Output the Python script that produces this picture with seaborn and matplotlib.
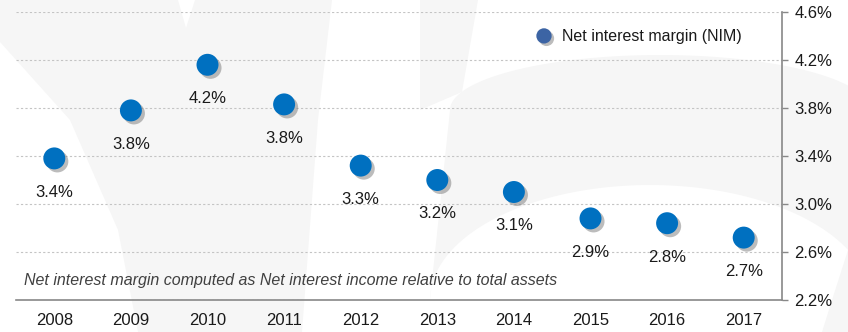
import numpy as np
import matplotlib
matplotlib.use("Agg")
import matplotlib.pyplot as plt
import matplotlib.patheffects as pe
from matplotlib.lines import Line2D
from matplotlib.patches import Polygon
import seaborn as sns

# Net interest margin by year (%)
years = ["2008", "2009", "2010", "2011", "2012", "2013", "2014", "2015", "2016", "2017"]
nim = [3.38, 3.78, 4.16, 3.83, 3.32, 3.20, 3.10, 2.88, 2.84, 2.72]
y_ticks = [2.2, 2.6, 3.0, 3.4, 3.8, 4.2, 4.6]
series_label = "Net interest margin (NIM)"
footnote = "Net interest margin computed as Net interest income relative to total assets"

sns.set_style("white")
plt.rcParams["font.family"] = ["Liberation Sans", "DejaVu Sans"]

W, H = 848, 332
fig = plt.figure(figsize=(W / 100, H / 100), dpi=100)
fig.patch.set_facecolor("white")

# faint decorative background swooshes, drawn in pixel space
bg = fig.add_axes([0, 0, 1, 1], zorder=-1)
bg.set_xlim(0, W)
bg.set_ylim(H, 0)
bg.axis("off")
shade = "#f6f6f6"
bg.add_patch(Polygon([(0, 0), (178, 0), (186, 28), (195, 0), (332, 0), (318, 120),
                      (302, 332), (138, 332), (118, 230), (70, 120), (0, 42)],
                     closed=True, facecolor=shade, edgecolor="none"))
bg.add_patch(Polygon([(420, 0), (478, 0), (462, 92), (420, 110)],
                     closed=True, facecolor=shade, edgecolor="none"))
t = np.linspace(np.pi, 0, 80)
outer = [(660 + 210 * np.cos(a), 110 - 55 * np.sin(a)) for a in t]
inner = [(650 + 220 * np.cos(a), 300 - 115 * np.sin(a)) for a in t]
bg.add_patch(Polygon(outer + [(W, 130), (W, 300)] + inner[::-1],
                     closed=True, facecolor=shade, edgecolor="none"))
bg.add_patch(Polygon([(W, 250), (832, 300), (822, 332), (W, 332)],
                     closed=True, facecolor=shade, edgecolor="none"))

ax = fig.add_axes([16 / W, 32 / H, 766 / W, 288 / H])
ax.patch.set_alpha(0)

pos = np.arange(len(years))
shadow = [pe.SimplePatchShadow(offset=(2.2, -2.2), shadow_rgbFace="#7a7a7a", alpha=0.5),
          pe.Normal()]
sns.scatterplot(x=pos, y=nim, ax=ax, s=250, color="#0070C0", edgecolor="none",
                legend=False, zorder=3)
ax.collections[-1].set_path_effects(shadow)

for x, v in zip(pos, nim):
    ax.annotate(f"{v:.1f}%", (x, v), xytext=(0, -34), textcoords="offset pixels",
                ha="center", va="center", fontsize=12, color="#1a1a1a")

ax.set_xlim(-0.5, len(years) - 0.5)
ax.set_ylim(y_ticks[0], y_ticks[-1])

# x axis: labels at centres, tick marks at category boundaries
ax.set_xticks(pos)
ax.set_xticklabels(years, fontsize=12, color="#1a1a1a")
ax.set_xticks(np.arange(-0.5, len(years)), minor=True)
ax.tick_params(axis="x", which="major", length=0, pad=9.5)
ax.tick_params(axis="x", which="minor", length=4, width=1, color="#888888", direction="out")

# y axis on the right
ax.yaxis.tick_right()
ax.set_yticks(y_ticks)
ax.set_yticklabels([f"{v:.1f}%" for v in y_ticks], fontsize=12, color="#1a1a1a")
ax.tick_params(axis="y", which="major", length=4, width=1, color="#888888",
               direction="out", pad=5)
ax.grid(axis="y", linestyle=(0, (2, 2)), color="#c4c4c4", linewidth=0.8)
ax.grid(axis="x", visible=False)

for side in ("top", "left"):
    ax.spines[side].set_visible(False)
for side in ("right", "bottom"):
    ax.spines[side].set_color("#888888")
    ax.spines[side].set_linewidth(1.2)

handle = Line2D([], [], marker="o", linestyle="", markersize=11, color="#3C64A4",
                markeredgewidth=0,
                path_effects=[pe.SimplePatchShadow(offset=(1.8, -1.8), shadow_rgbFace="#7a7a7a",
                                                   alpha=0.5), pe.Normal()])
ax.legend(handles=[handle], labels=[series_label], loc="center left",
          bbox_to_anchor=(536 / W, 1 - 37 / H), bbox_transform=fig.transFigure,
          frameon=False, borderpad=0, borderaxespad=0, handlelength=1.0,
          handletextpad=0.63, fontsize=11.5, labelcolor="#1a1a1a")

fig.text(24 / W, 1 - 281 / H, footnote, style="italic", fontsize=11.5, color="#404040",
         va="center", ha="left")

fig.savefig("out.png", dpi=100)
